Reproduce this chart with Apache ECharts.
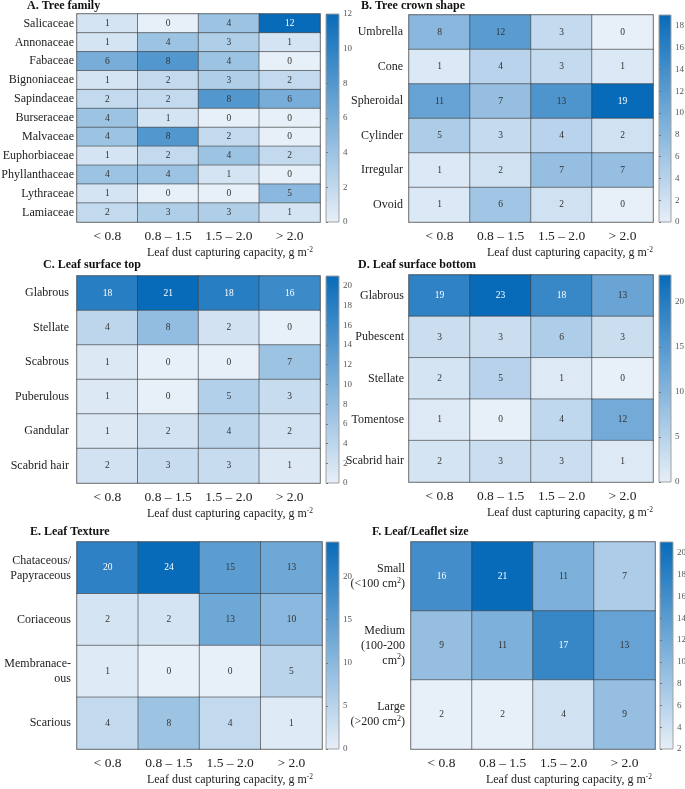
<!DOCTYPE html>
<html><head><meta charset="utf-8">
<script src="https://cdn.jsdelivr.net/npm/echarts@6/dist/echarts.min.js"></script>
<style>html,body{margin:0;padding:0;background:#fff}#c{width:685px;height:789px}</style>
</head><body><div id="c"></div>
<script>
// ---- data ----
const xCats = ['< 0.8', '0.8 – 1.5', '1.5 – 2.0', '> 2.0'];
const xName = 'Leaf dust capturing capacity, g m{sup|-2}';

const famTitle = 'A. Tree family';
const famCats = ['Salicaceae','Annonaceae','Fabaceae','Bignoniaceae','Sapindaceae','Burseraceae','Malvaceae','Euphorbiaceae','Phyllanthaceae','Lythraceae','Lamiaceae'];
const famVals = [[1,0,4,12],[1,4,3,1],[6,8,4,0],[1,2,3,2],[2,2,8,6],[4,1,0,0],[4,8,2,0],[1,2,4,2],[4,4,1,0],[1,0,0,5],[2,3,3,1]];

const crownTitle = 'B. Tree crown shape';
const crownCats = ['Umbrella','Cone','Spheroidal','Cylinder','Irregular','Ovoid'];
const crownVals = [[8,12,3,0],[1,4,3,1],[11,7,13,19],[5,3,4,2],[1,2,7,7],[1,6,2,0]];

const topTitle = 'C. Leaf surface top';
const topCats = ['Glabrous','Stellate','Scabrous','Puberulous','Gandular','Scabrid hair'];
const topVals = [[18,21,18,16],[4,8,2,0],[1,0,0,7],[1,0,5,3],[1,2,4,2],[2,3,3,1]];

const botTitle = 'D. Leaf surface bottom';
const botCats = ['Glabrous','Pubescent','Stellate','Tomentose','Scabrid hair'];
const botVals = [[19,23,18,13],[3,3,6,3],[2,5,1,0],[1,0,4,12],[2,3,3,1]];

const texTitle = 'E. Leaf Texture';
const texCats = ['Chataceous/\nPapyraceous','Coriaceous','Membranace-\nous','Scarious'];
const texVals = [[20,24,15,13],[2,2,13,10],[1,0,0,5],[4,8,4,1]];

const sizeTitle = 'F. Leaf/Leaflet size';
const sizeCats = ['Small\n(<100 cm{sup|2})','Medium\n(100-200\ncm{sup|2})','Large\n(>200 cm{sup|2})'];
const sizeVals = [[16,21,11,7],[9,11,17,13],[2,2,4,9]];

const cbMin = [0, 0, 0, 0, 0, 2];
const cbMax = [12, 19, 21, 23, 24, 21];
const cbTicks = [
  [0,2,4,6,8,10,12],
  [0,2,4,6,8,10,12,14,16,18],
  [0,2,4,6,8,10,12,14,16,18,20],
  [0,5,10,15,20],
  [0,5,10,15,20],
  [2,4,6,8,10,12,14,16,18,20]
];

// ---- styling / layout ----
const FONT = '"Liberation Serif", "DejaVu Serif", serif';
const LOW = '#e7eff8', HIGH = '#086bb9';
const panels = [
  {title: famTitle,   cats: famCats,   vals: famVals,   g:{l:77, t:14, w:243, h:208}, cb:{l:326,t:14,w:13,h:208}, tt:{l:27,t:0},   ym:3, ng:-7},
  {title: crownTitle, cats: crownCats, vals: crownVals, g:{l:409,t:15, w:244, h:207}, cb:{l:659,t:15,w:12,h:207}, tt:{l:361,t:0},  ym:6, ng:0},
  {title: topTitle,   cats: topCats,   vals: topVals,   g:{l:77, t:276,w:243, h:207}, cb:{l:326,t:276,w:13,h:207}, tt:{l:43,t:259}, ym:8, ng:-7},
  {title: botTitle,   cats: botCats,   vals: botVals,   g:{l:409,t:275,w:244, h:207}, cb:{l:659,t:275,w:12,h:207}, tt:{l:358,t:259}, ym:5, ng:0},
  {title: texTitle,   cats: texCats,   vals: texVals,   g:{l:77, t:542,w:245, h:207}, cb:{l:326,t:542,w:13,h:207}, tt:{l:30,t:526},  ym:6, ng:-9},
  {title: sizeTitle,  cats: sizeCats,  vals: sizeVals,  g:{l:411,t:542,w:244, h:207}, cb:{l:660,t:542,w:13,h:207}, tt:{l:372,t:526}, ym:6, ng:-3}
];

const supRich = {sup: {fontSize: 8, fontFamily: FONT, verticalAlign: 'top', padding: [0,0,7,0], color: '#222'}};

const grid = [], xAxis = [], yAxis = [], series = [], visualMap = [], title = [];
panels.forEach((p, i) => {
  grid.push({left:p.g.l, top:p.g.t, width:p.g.w, height:p.g.h, show:true, borderColor:'#bdbdbd', borderWidth:2, containLabel:false, outerBoundsMode:'none'});
  title.push({text:p.title, left:p.tt.l, top:p.tt.t, padding:0, textStyle:{fontFamily:FONT, fontWeight:'bold', fontSize:12, color:'#111'}});
  xAxis.push({type:'category', gridIndex:i, data:xCats, position:'bottom',
    axisLine:{show:false}, axisTick:{show:false}, splitLine:{show:false},
    axisLabel:{interval:0, margin:7, fontFamily:FONT, fontSize:13.5, color:'#222', hideOverlap:false},
    name:xName, nameLocation:'end', nameGap:p.ng,
    nameTextStyle:{fontFamily:FONT, fontSize:12, color:'#222', align:'right', verticalAlign:'top', padding:[24,0,0,0], rich:{sup:{fontSize:7.5, fontFamily:FONT, verticalAlign:'top', padding:[0,0,6,0], color:'#222'}}}
  });
  yAxis.push({type:'category', gridIndex:i, data:p.cats, inverse:true,
    axisLine:{show:false}, axisTick:{show:false}, splitLine:{show:false},
    axisLabel:{interval:0, margin:p.ym, fontFamily:FONT, fontSize:12, color:'#222', lineHeight:15, rich:supRich}
  });
  const mn = cbMin[i], mx = cbMax[i];
  const data = [];
  p.vals.forEach((row, r) => row.forEach((v, c) => {
    const t = (v - mn) / (mx - mn);
    data.push({value:[c, r, v], label:{color: t > 0.7 ? '#ffffff' : '#333333'}});
  }));
  series.push({type:'heatmap', xAxisIndex:i, yAxisIndex:i, data:data,
    label:{show:true, fontFamily:FONT, fontSize:9.5, formatter: d => d.value[2]},
    itemStyle:{borderColor:'rgba(60,60,60,0.6)', borderWidth:1},
    emphasis:{disabled:true}
  });
  visualMap.push({type:'continuous', show:false, seriesIndex:i, dimension:2, min:mn, max:mx, inRange:{color:[LOW, HIGH]}});
});
// colour bars
panels.forEach((p, i) => {
  const gi = 6 + i;
  grid.push({left:p.cb.l, top:p.cb.t, width:p.cb.w, height:p.cb.h, show:true, outerBoundsMode:'none',
    backgroundColor: new echarts.graphic.LinearGradient(0,0,0,1,[{offset:0,color:HIGH},{offset:1,color:LOW}]),
    borderColor:'#a0a0a0', borderWidth:1});
  xAxis.push({type:'value', gridIndex:gi, show:false, min:0, max:1});
  yAxis.push({type:'value', gridIndex:gi, min:cbMin[i], max:cbMax[i], position:'right',
    axisLine:{show:false}, splitLine:{show:false},
    axisTick:{show:true, inside:false, length:2, lineStyle:{color:'#777'}, customValues:cbTicks[i]},
    axisLabel:{margin:4, fontFamily:FONT, fontSize:9, color:'#555', customValues:cbTicks[i]}
  });
});

const chart = echarts.init(document.getElementById('c'), null, {renderer:'canvas'});
chart.setOption({backgroundColor:'#ffffff', animation:false, title, grid, xAxis, yAxis, visualMap, series});
</script>
</body></html>
